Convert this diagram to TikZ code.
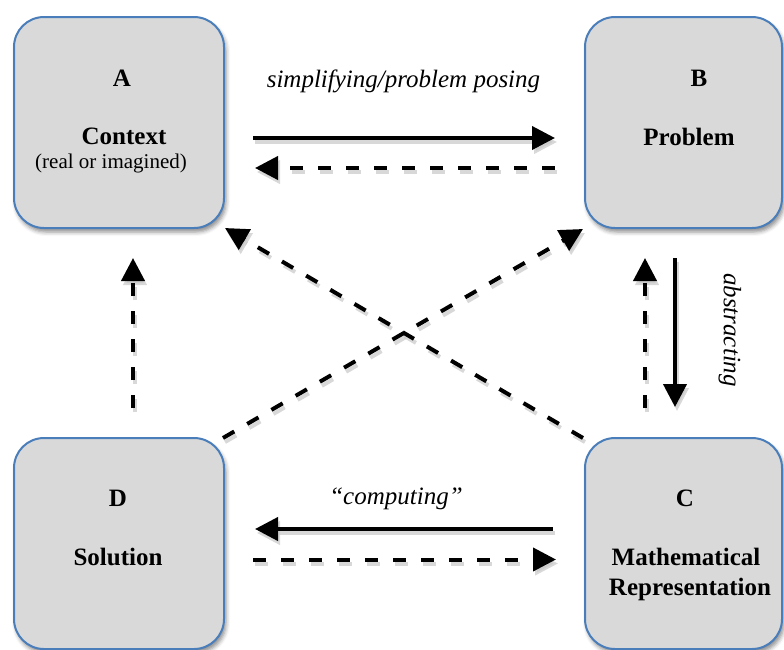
\documentclass[tikz,border=0pt]{standalone}
\usepackage{fontspec}
\setmainfont{Liberation Serif}
\usetikzlibrary{arrows.meta,shadows.blur}
\definecolor{boxfill}{HTML}{D9D9D9}
\definecolor{boxline}{HTML}{4A7EBB}
\newcommand\myarrow[3]{%
  \draw[#1, black!22, opacity=0.7, transform canvas={shift={(2pt,-4pt)}}] #2 -- #3;
  \draw[#1] #2 -- #3;}
\tikzset{
  stagebox/.style={draw=boxline, fill=boxfill, line width=2pt, rounded corners=30pt,
    outer sep=0pt, inner sep=0pt,
    blur shadow={shadow xshift=2pt, shadow yshift=-4pt, shadow blur radius=4pt, shadow opacity=45}},
  letterlab/.style={font=\fontsize{25}{29}\selectfont\bfseries, anchor=base, inner sep=0pt},
  titlelab/.style={font=\fontsize{25}{29}\selectfont\bfseries, anchor=base, inner sep=0pt},
  sublab/.style={font=\fontsize{21}{25}\selectfont, anchor=base, inner sep=0pt},
  edgelab/.style={font=\fontsize{25}{29}\selectfont\itshape, inner sep=0pt},
  solidarr/.style={line width=4pt, -{Triangle[length=23pt,width=23pt]}},
  dasharr/.style={line width=4pt, dash pattern=on 13pt off 15pt, -{Triangle[length=23pt,width=23pt]}}
}
\begin{document}
\begin{tikzpicture}[x=1pt,y=-1pt]
\useasboundingbox (0,0) rectangle (784,649);
% boxes
\node[stagebox, minimum width=210pt, minimum height=211pt] (A) at (119,122.5) {};
\node[stagebox, minimum width=197pt, minimum height=211pt] (B) at (683.5,122.5) {};
\node[stagebox, minimum width=210pt, minimum height=211pt] (D) at (119,543.5) {};
\node[stagebox, minimum width=197pt, minimum height=211pt] (C) at (683.5,543.5) {};
% box texts
\node[letterlab] (Aletter) at (122,86) {A};
\node[titlelab] (Atitle) at (124,144) {Context};
\node[sublab] (Asub) at (111,168) {(real or imagined)};
\node[letterlab] (Bletter) at (699,86) {B};
\node[titlelab] (Btitle) at (689,145) {Problem};
\node[letterlab] (Dletter) at (118,506) {D};
\node[titlelab] (Dtitle) at (118,565) {Solution};
\node[letterlab] (Cletter) at (685,506) {C};
\node[titlelab] (Ctitle1) at (686,565) {Mathematical};
\node[titlelab] (Ctitle2) at (690,595) {Representation};
% edge labels
\node[edgelab, anchor=base] (simp) at (403.5,87) {simplifying/problem posing};
\node[edgelab, anchor=base] (comp) at (396,504) {“computing”};
\node[edgelab, rotate=-90] (abst) at (730,330) {abstracting};
% connectors
\myarrow{solidarr}{([shift={(29,15.5)}]A.east)}{([shift={(-30,15.5)}]B.west)}
\myarrow{dasharr}{([shift={(-30,45.5)}]B.west)}{([shift={(31,45.5)}]A.east)}
\myarrow{solidarr}{([shift={(-32,-14.5)}]C.west)}{([shift={(31,-14.5)}]D.east)}
\myarrow{dasharr}{([shift={(29,16)}]D.east)}{([shift={(-29,16)}]C.west)}
\myarrow{solidarr}{([shift={(-8.5,30)}]B.south)}{([shift={(-8.5,-31)}]C.north)}
\myarrow{dasharr}{([shift={(-38.5,-30)}]C.north)}{([shift={(-38.5,30)}]B.south)}
\myarrow{dasharr}{([shift={(14,-30)}]D.north)}{([shift={(14,30)}]A.south)}
\myarrow{dasharr}{([shift={(-1,0)}]D.north east)}{([shift={(-2,1)}]B.south west)}
\myarrow{dasharr}{([shift={(-2,0)}]C.north west)}{([shift={(1,0)}]A.south east)}
\end{tikzpicture}
\end{document}
